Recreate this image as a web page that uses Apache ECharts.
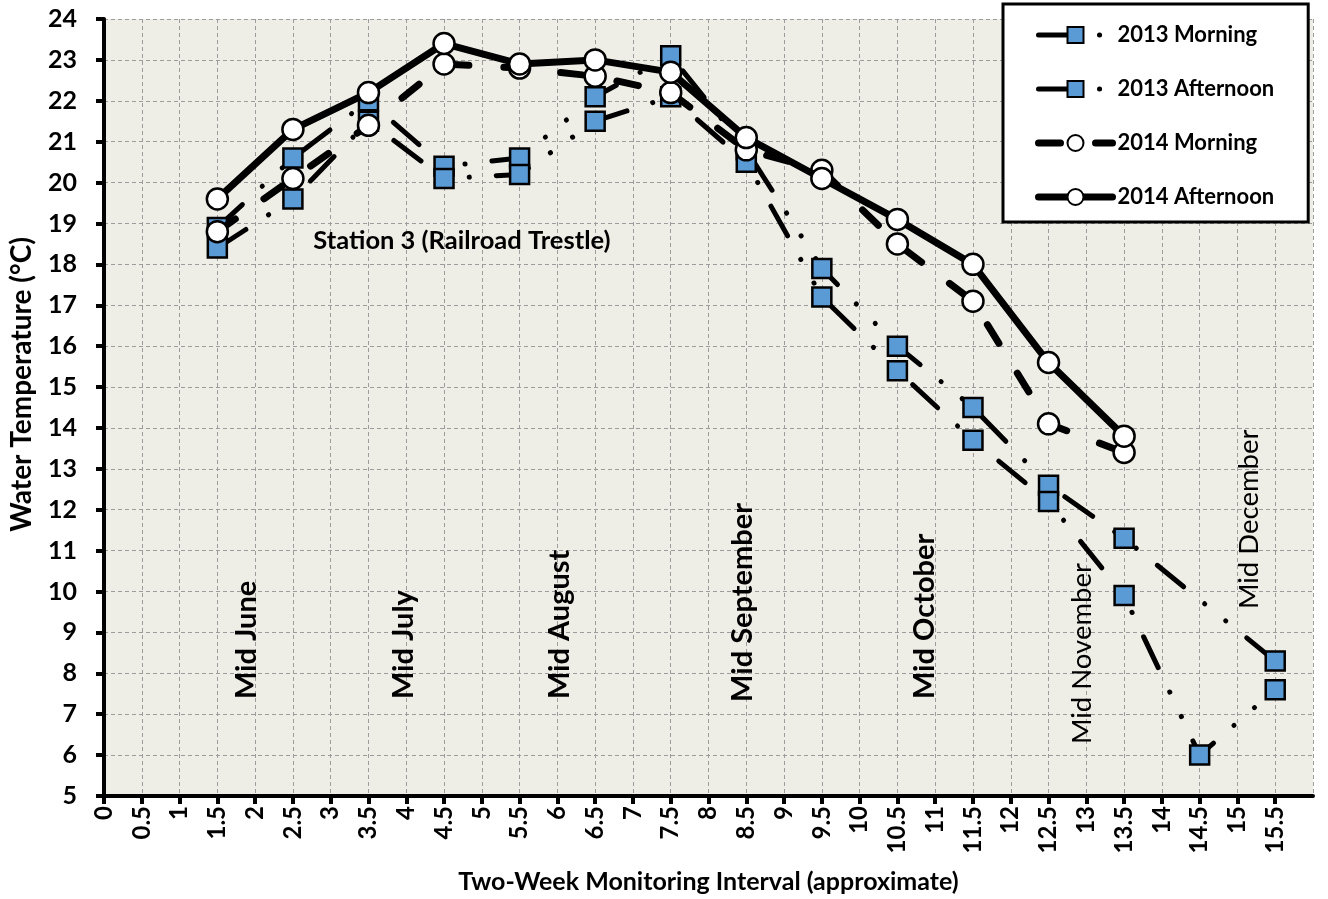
<!DOCTYPE html>
<html>
<head>
<meta charset="utf-8">
<script src="https://cdn.jsdelivr.net/npm/echarts@6/dist/echarts.min.js"></script>
<style>
  html, body { margin: 0; padding: 0; background: #ffffff; }
  #chart { width: 1328px; height: 899px; }
</style>
</head>
<body>
<div id="chart"></div>
<script>
// Two-week monitoring intervals (x positions of the samples)
const intervals = [1.5, 2.5, 3.5, 4.5, 5.5, 6.5, 7.5, 8.5, 9.5, 10.5, 11.5, 12.5, 13.5, 14.5, 15.5];

// Water temperature (°C) per interval
const morning2013   = [18.9, 20.6, 22.0, 20.4, 20.6, 22.1, 23.1, 20.8, 17.9, 16.0, 14.5, 12.6, 11.3, null, 8.3];
const afternoon2013 = [18.4, 19.6, 21.5, 20.1, 20.2, 21.5, 22.1, 20.5, 17.2, 15.4, 13.7, 12.2, 9.9, 6.0, 7.6];
const morning2014   = [18.8, 20.1, 21.4, 22.9, 22.8, 22.6, 22.2, 20.8, 20.3, 18.5, 17.1, 14.1, 13.4, null, null];
const afternoon2014 = [19.6, 21.3, 22.2, 23.4, 22.9, 23.0, 22.7, 21.1, 20.1, 19.1, 18.0, 15.6, 13.8, null, null];

const seriesNames = ['2013 Morning', '2013 Afternoon', '2014 Morning', '2014 Afternoon'];

// Month markers and the station caption, anchored in data coordinates
const monthLabels = ['Mid June', 'Mid July', 'Mid August', 'Mid September', 'Mid October', 'Mid November', 'Mid December'];
const monthAnchorX = [1.89, 3.97, 6.03, 8.45, 10.86, 12.94, 15.16];
const monthAnchorY = [7.37, 7.37, 7.37, 7.30, 7.37, 6.27, 9.57];
const stationCaption = 'Station 3 (Railroad Trestle)';
const stationAnchor = [2.77, 18.58];

const FONT = 'Lato, "Open Sans", sans-serif';

function pairs(values) {
  return intervals.map((x, i) => [x, values[i]]);
}

const chart = echarts.init(document.getElementById('chart'), null, { renderer: 'canvas' });

const squareStyle = { color: '#5B9BD5', borderColor: '#000000', borderWidth: 2.5 };
const circleStyle = { color: '#ffffff', borderColor: '#000000', borderWidth: 2.5 };
const dashDotDot = [34, 27, 0.1, 27, 0.1, 27];

chart.setOption({
  backgroundColor: '#ffffff',
  animation: false,
  textStyle: { fontFamily: FONT },
  grid: { left: 104, right: 15, top: 19, bottom: 102, show: true, backgroundColor: '#EFEEE6', borderWidth: 0 },
  legend: {
    orient: 'vertical',
    left: 1003,
    top: 4,
    padding: [20, 34, 14, 32],
    itemGap: 32,
    itemWidth: 74,
    itemHeight: 20,
    backgroundColor: '#ffffff',
    borderColor: '#000000',
    borderWidth: 3,
    lineStyle: { width: 'inherit' },
    textStyle: { fontFamily: FONT, fontWeight: 'bold', fontSize: 22, color: '#000000' },
    data: seriesNames
  },
  xAxis: {
    type: 'value',
    min: 0,
    max: 16,
    interval: 0.5,
    name: 'Two-Week Monitoring Interval (approximate)',
    nameLocation: 'middle',
    nameGap: 73,
    nameTextStyle: { fontFamily: FONT, fontWeight: 'bold', fontSize: 25, color: '#000000' },
    axisLine: { show: true, onZero: false, lineStyle: { color: '#000000', width: 4 } },
    axisTick: { show: true, length: 8, lineStyle: { color: '#000000', width: 4 } },
    axisLabel: {
      rotate: 90,
      margin: 10,
      fontFamily: FONT,
      fontWeight: 'bold',
      fontSize: 24,
      color: '#000000',
      showMaxLabel: false,
      formatter: v => (v >= 16 ? '' : String(v))
    },
    splitLine: { show: true, lineStyle: { color: '#9C9C9C', width: 1, type: [4, 3] } }
  },
  yAxis: {
    type: 'value',
    min: 5,
    max: 24,
    interval: 1,
    name: 'Water Temperature (°C)',
    nameLocation: 'middle',
    nameRotate: 90,
    nameGap: 68,
    nameTextStyle: { fontFamily: FONT, fontWeight: 'bold', fontSize: 28, color: '#000000', padding: [0, 0, 0, 46] },
    axisLine: { show: true, onZero: false, lineStyle: { color: '#000000', width: 4 } },
    axisTick: { show: true, length: 8, lineStyle: { color: '#000000', width: 4 } },
    axisLabel: { margin: 27, fontFamily: FONT, fontWeight: 'bold', fontSize: 25, color: '#000000' },
    splitLine: { show: true, lineStyle: { color: '#9C9C9C', width: 1, type: [4, 3] } }
  },
  series: [
    {
      name: seriesNames[0], type: 'line', data: pairs(morning2013), connectNulls: true,
      symbol: 'rect', symbolSize: 19, showAllSymbol: true, itemStyle: squareStyle,
      lineStyle: { color: '#000000', width: 5, type: dashDotDot, cap: 'round' }, z: 2
    },
    {
      name: seriesNames[1], type: 'line', data: pairs(afternoon2013), connectNulls: true,
      symbol: 'rect', symbolSize: 19, showAllSymbol: true, itemStyle: squareStyle,
      lineStyle: { color: '#000000', width: 5, type: dashDotDot, cap: 'round' }, z: 3
    },
    {
      name: seriesNames[2], type: 'line', data: pairs(morning2014),
      symbol: 'circle', symbolSize: 21, showAllSymbol: true, itemStyle: circleStyle,
      lineStyle: { color: '#000000', width: 7, type: [22, 35], cap: 'round' }, z: 4
    },
    {
      name: seriesNames[3], type: 'line', data: pairs(afternoon2014),
      symbol: 'circle', symbolSize: 21, showAllSymbol: true, itemStyle: circleStyle,
      lineStyle: { color: '#000000', width: 7, type: 'solid', cap: 'round', join: 'round' }, z: 5
    }
  ]
});

// Rotated month captions and the station caption, placed through the grid's scales
const captions = monthLabels.map((text, i) => {
  const p = chart.convertToPixel({ gridIndex: 0 }, [monthAnchorX[i], monthAnchorY[i]]);
  const light = text === 'Mid November' || text === 'Mid December';
  return {
    type: 'text', x: p[0], y: p[1], rotation: Math.PI / 2, z: 1,
    style: {
      text, fill: '#000000', font: (light ? 'normal 27.5px ' : 'bold 29px ') + FONT,
      align: 'left', verticalAlign: 'middle'
    }
  };
});
const sp = chart.convertToPixel({ gridIndex: 0 }, stationAnchor);
captions.push({
  type: 'text', x: sp[0], y: sp[1], z: 1,
  style: { text: stationCaption, fill: '#000000', font: 'bold 25.5px ' + FONT, align: 'left', verticalAlign: 'middle' }
});
chart.setOption({ graphic: captions });
</script>
</body>
</html>
